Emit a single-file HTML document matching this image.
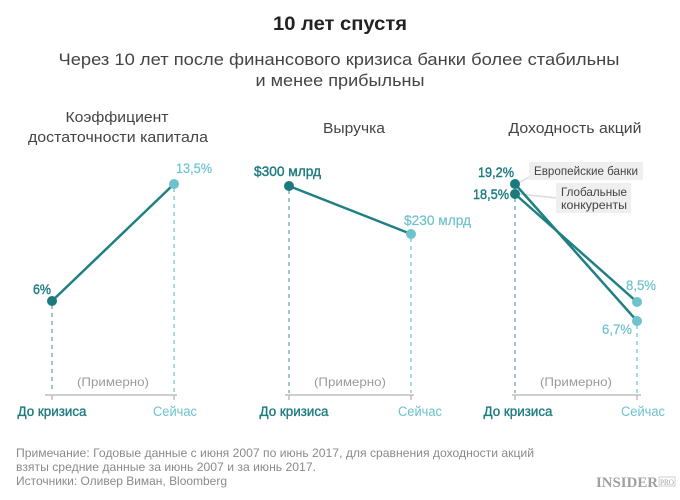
<!DOCTYPE html>
<html><head><meta charset="utf-8"><style>
html,body{margin:0;padding:0;background:#fff;}
svg{display:block;font-family:"Liberation Sans","Noto Sans CJK SC",sans-serif;}
</style></head><body>
<svg width="680" height="500" viewBox="0 0 680 500" xmlns="http://www.w3.org/2000/svg">
<rect width="680" height="500" fill="#fff"/>
<text x="340" y="30" text-anchor="middle" font-size="19" font-weight="bold" fill="#222" textLength="134" lengthAdjust="spacingAndGlyphs">10 лет спустя</text>
<text x="339" y="65" text-anchor="middle" font-size="16.5" fill="#444" textLength="561" lengthAdjust="spacingAndGlyphs">Через 10 лет после финансового кризиса банки более стабильны</text>
<text x="340" y="86" text-anchor="middle" font-size="16.5" fill="#444" textLength="169" lengthAdjust="spacingAndGlyphs">и менее прибыльны</text>

<g font-size="15" fill="#444" text-anchor="middle">
<text x="117" y="122" textLength="103" lengthAdjust="spacingAndGlyphs">Коэффициент</text>
<text x="118" y="142" textLength="180" lengthAdjust="spacingAndGlyphs">достаточности капитала</text>
<text x="354" y="133" textLength="62" lengthAdjust="spacingAndGlyphs">Выручка</text>
<text x="575" y="133" textLength="133" lengthAdjust="spacingAndGlyphs">Доходность акций</text>
</g>

<g stroke="#bdbdbd" stroke-width="1.5" fill="none">
<line x1="45" y1="395" x2="177" y2="395"/>
<line x1="52" y1="395" x2="52" y2="400"/><line x1="174" y1="395" x2="174" y2="400"/>
<line x1="285" y1="395" x2="414" y2="395"/>
<line x1="289" y1="395" x2="289" y2="400"/><line x1="411" y1="395" x2="411" y2="400"/>
<line x1="512" y1="395" x2="641" y2="395"/>
<line x1="515" y1="395" x2="515" y2="400"/><line x1="637" y1="395" x2="637" y2="400"/>
</g>

<g stroke-width="1.3" stroke-dasharray="4,4" fill="none">
<line x1="52" y1="305" x2="52" y2="393" stroke="#6aa9ad"/>
<line x1="174" y1="188" x2="174" y2="393" stroke="#75c7d0"/>
<line x1="289" y1="190" x2="289" y2="393" stroke="#6aa9ad"/>
<line x1="411" y1="238" x2="411" y2="393" stroke="#75c7d0"/>
<line x1="515" y1="198" x2="515" y2="393" stroke="#6aa9ad"/>
<line x1="637" y1="325" x2="637" y2="393" stroke="#75c7d0"/>
</g>

<g font-size="12" fill="#9a9a9a" text-anchor="middle">
<text x="113" y="386" textLength="72" lengthAdjust="spacingAndGlyphs">(Примерно)</text>
<text x="350" y="386" textLength="72" lengthAdjust="spacingAndGlyphs">(Примерно)</text>
<text x="576" y="386" textLength="72" lengthAdjust="spacingAndGlyphs">(Примерно)</text>
</g>

<g font-size="13.5" stroke-width="0.35">
<text x="52" y="416" text-anchor="middle" fill="#1d7b7e" stroke="#1d7b7e" textLength="69" lengthAdjust="spacingAndGlyphs">До кризиса</text>
<text x="175" y="416" text-anchor="middle" fill="#6cc3cd" textLength="44" lengthAdjust="spacingAndGlyphs">Сейчас</text>
<text x="294" y="416" text-anchor="middle" fill="#1d7b7e" stroke="#1d7b7e" textLength="69" lengthAdjust="spacingAndGlyphs">До кризиса</text>
<text x="420" y="416" text-anchor="middle" fill="#6cc3cd" textLength="44" lengthAdjust="spacingAndGlyphs">Сейчас</text>
<text x="518" y="416" text-anchor="middle" fill="#1d7b7e" stroke="#1d7b7e" textLength="69" lengthAdjust="spacingAndGlyphs">До кризиса</text>
<text x="643" y="416" text-anchor="middle" fill="#6cc3cd" textLength="44" lengthAdjust="spacingAndGlyphs">Сейчас</text>
</g>

<line x1="52" y1="301" x2="174" y2="184" stroke="#1f8083" stroke-width="2.5"/>
<circle cx="52" cy="301" r="5" fill="#1a7a7d"/>
<circle cx="174" cy="184" r="5" fill="#6cc3cd"/>

<line x1="289" y1="186" x2="411" y2="234" stroke="#1f8083" stroke-width="2.5"/>
<circle cx="289" cy="186" r="5" fill="#1a7a7d"/>
<circle cx="411" cy="234" r="5" fill="#6cc3cd"/>

<line x1="518" y1="183" x2="531" y2="176" stroke="#dcdcdc" stroke-width="1.5"/>
<line x1="519" y1="194" x2="557" y2="198" stroke="#dcdcdc" stroke-width="1.5"/>
<rect x="529" y="162" width="114" height="18" fill="#efefef"/>
<rect x="556" y="183" width="75" height="30" fill="#efefef"/>
<g font-size="12" fill="#444">
<text x="534" y="175" textLength="104" lengthAdjust="spacingAndGlyphs">Европейские банки</text>
<text x="561" y="196" textLength="66" lengthAdjust="spacingAndGlyphs">Глобальные</text>
<text x="561" y="209" textLength="66" lengthAdjust="spacingAndGlyphs">конкуренты</text>
</g>

<line x1="515" y1="184" x2="637" y2="321" stroke="#1f8083" stroke-width="2.5"/>
<line x1="515" y1="194" x2="637" y2="302" stroke="#1f8083" stroke-width="2.5"/>
<circle cx="515" cy="184" r="5" fill="#1a7a7d"/>
<circle cx="515" cy="194" r="5" fill="#1a7a7d"/>
<circle cx="637" cy="302" r="5" fill="#6cc3cd"/>
<circle cx="637" cy="321" r="5" fill="#6cc3cd"/>

<g font-size="14" stroke-width="0.4">
<text x="33" y="294" fill="#1d7b7e" stroke="#1d7b7e" textLength="18" lengthAdjust="spacingAndGlyphs">6%</text>
<text x="176" y="173" fill="#6cc3cd" stroke="#6cc3cd" stroke-width="0.2" textLength="36" lengthAdjust="spacingAndGlyphs">13,5%</text>
<text x="254" y="176" fill="#1d7b7e" stroke="#1d7b7e" textLength="67" lengthAdjust="spacingAndGlyphs">$300 млрд</text>
<text x="404" y="225" fill="#6cc3cd" stroke="#6cc3cd" stroke-width="0.2" textLength="67" lengthAdjust="spacingAndGlyphs">$230 млрд</text>
<text x="478" y="177" fill="#1d7b7e" stroke="#1d7b7e" textLength="36" lengthAdjust="spacingAndGlyphs">19,2%</text>
<text x="473" y="199" fill="#1d7b7e" stroke="#1d7b7e" textLength="36" lengthAdjust="spacingAndGlyphs">18,5%</text>
<text x="626" y="290" fill="#6cc3cd" stroke="#6cc3cd" stroke-width="0.2" textLength="30" lengthAdjust="spacingAndGlyphs">8,5%</text>
<text x="602" y="334" fill="#6cc3cd" stroke="#6cc3cd" stroke-width="0.2" textLength="30" lengthAdjust="spacingAndGlyphs">6,7%</text>
</g>

<g font-size="12" fill="#8a8a8a">
<text x="16" y="457" textLength="518" lengthAdjust="spacingAndGlyphs">Примечание: Годовые данные с июня 2007 по июнь 2017, для сравнения доходности акций</text>
<text x="16" y="471" textLength="300" lengthAdjust="spacingAndGlyphs">взяты средние данные за июнь 2007 и за июнь 2017.</text>
<text x="16" y="485" textLength="211" lengthAdjust="spacingAndGlyphs">Источники: Оливер Виман, Bloomberg</text>
</g>
<text x="596" y="487" font-family="Liberation Serif, serif" font-weight="bold" font-size="15" fill="#a0a0a0" textLength="62" lengthAdjust="spacingAndGlyphs">INSIDER</text>
<rect x="659" y="477" width="16" height="9" fill="none" stroke="#b0b0b0" stroke-width="0.6"/>
<text x="660" y="485" font-family="Liberation Serif, serif" font-size="8" fill="#a0a0a0" textLength="14" lengthAdjust="spacingAndGlyphs">PRO</text>
</svg>
</body></html>
